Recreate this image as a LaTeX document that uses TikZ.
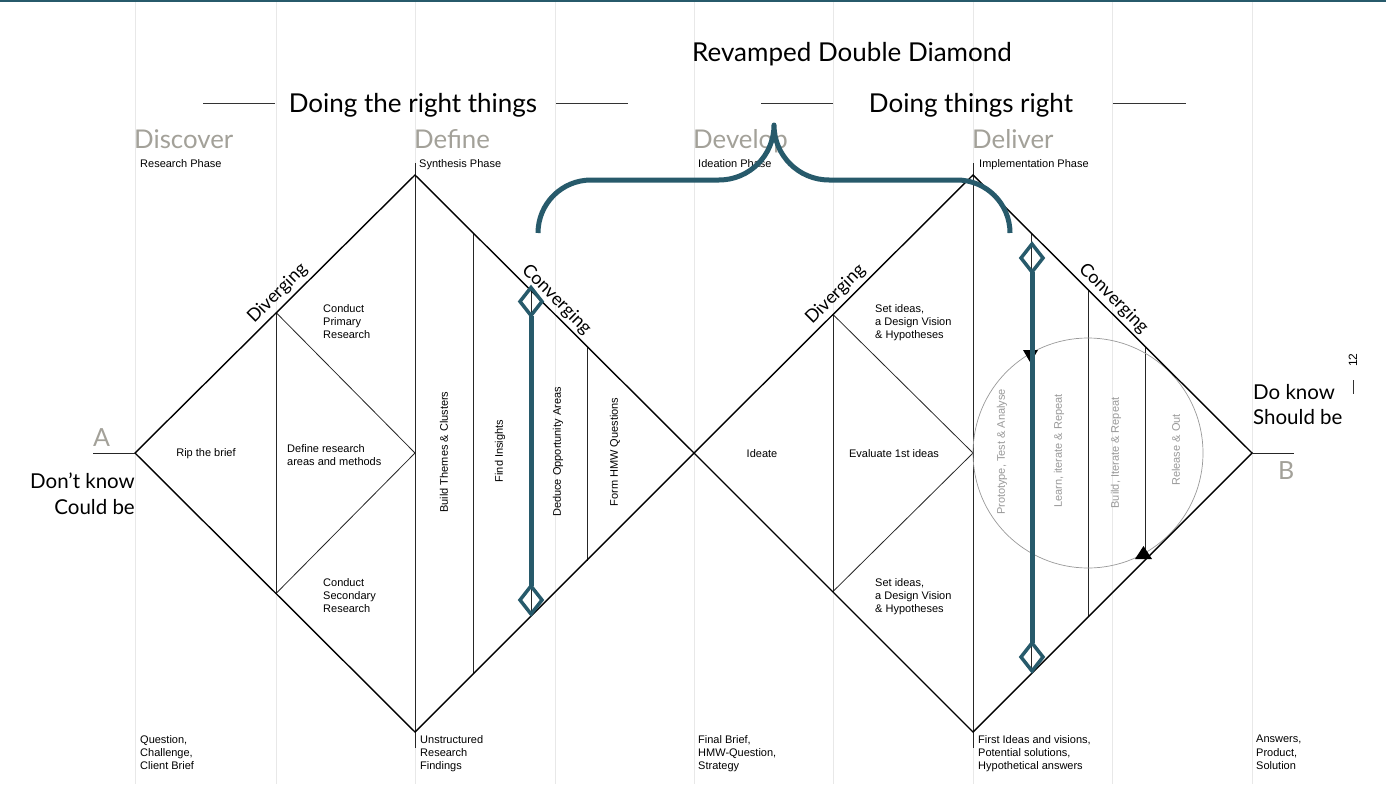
\documentclass[tikz,border=0pt]{standalone}
\usepackage{fontspec}
\setmainfont{Liberation Sans}
\newfontfamily\titlefont{Lato}
\definecolor{tealc}{HTML}{275A6B}
\definecolor{phasegray}{HTML}{A3A199}
\definecolor{gridgray}{HTML}{E8E8E8}
\definecolor{cyclegray}{HTML}{999999}
\begin{document}
\begin{tikzpicture}[x=1pt,y=-1pt,
  gridline/.style={draw=gridgray, line width=0.8pt},
  edge/.style={draw=black, line width=1.4pt, line join=miter},
  innerline/.style={draw=black!85, line width=0.8pt},
  tealline/.style={draw=tealc, line width=5pt},
  tealmark/.style={draw=tealc, line width=3.5pt, line join=miter},
  rule/.style={draw=black!80, line width=0.9pt},
  small/.style={font=\fontsize{11}{13.3}\selectfont, inner sep=0pt, align=left},
  rottext/.style={font=\fontsize{11}{13}\selectfont, inner sep=0pt, rotate=90},
  rotgray/.style={rottext, text=cyclegray},
  phase/.style={font=\titlefont\fontsize{25.8}{28}\selectfont, text=phasegray, inner sep=0pt, anchor=base west},
  phasesub/.style={font=\fontsize{11}{13}\selectfont, inner sep=0pt, anchor=base west},
  bigtitle/.style={font=\titlefont\fontsize{26}{30}\selectfont, inner sep=0pt, anchor=base},
  side/.style={font=\titlefont\fontsize{20.5}{25.5}\selectfont, inner sep=0pt},
  diag/.style={font=\titlefont\fontsize{18}{21}\selectfont, inner sep=3.5pt, anchor=south},
  letter/.style={font=\titlefont\fontsize{25}{28}\selectfont, text=phasegray, inner sep=0pt, anchor=base west},
  tmark/.pic={\path[tealmark] (0,-14) -- (11,0) -- (0,14) -- (-11,0) -- cycle;}
]
\useasboundingbox (0,0) rectangle (1386,784);
\fill[white] (0,0) rectangle (1386,784);
\fill[tealc] (0,0) rectangle (1386,2.5);

% grid
\foreach \gx in {135,276,415,555,694,833,973,1112,1252}
  \draw[gridline] (\gx,2.5) -- (\gx,784);

% key coordinates
\coordinate (A1) at (135,453);
\coordinate (T1) at (415,175);
\coordinate (B1) at (415,732);
\coordinate (M)  at (694,453);
\coordinate (T2) at (973,175);
\coordinate (B2) at (973,732);
\coordinate (E)  at (1252,453);
\coordinate (Aend) at (93,453);
\coordinate (Eend) at (1294,453);

% inner lines diamond 1
\coordinate (p1) at (276,312.5);
\coordinate (p2) at (276,593.5);
\coordinate (q1) at (415,453);
\draw[innerline] (p1) -- (p2);
\draw[innerline] (p1) -- (q1) -- (p2);
\draw[innerline] (415,163) -- (415,748);
\draw[innerline] (473,232.8) -- (473,674.2);
\draw[innerline] (531,290.6) -- (531,616.4);
\draw[innerline] (587,346.4) -- (587,560.6);

% inner lines diamond 2
\coordinate (r1) at (833,314.5);
\coordinate (r2) at (833,591.5);
\coordinate (s1) at (973,453);
\draw[innerline] (r1) -- (r2);
\draw[innerline] (r1) -- (s1) -- (r2);
\draw[innerline] (973,163) -- (973,748);
\draw[innerline] (1031,232.8) -- (1031,674.2);
\draw[innerline] (1088,289.7) -- (1088,617.3);
\draw[innerline] (1145,346.5) -- (1145,550);

% cycle circle
\draw[draw=cyclegray, line width=0.7pt] (1088,453) circle[radius=115];
\fill[black] (1023,350) -- (1038,350) -- (1030.5,363) -- cycle;
\fill[black] (1135,559) -- (1152,559) -- (1143.5,546) -- cycle;

% outer diamonds
\draw[edge] (A1) -- (T1) -- (M) -- (B1) -- cycle;
\draw[edge] (M) -- (T2) -- (E) -- (B2) -- cycle;
\draw[innerline] (Aend) -- (A1);
\draw[innerline] (E) -- (Eend);

% texts diamond 1
\node[small, anchor=center] (rip) at (206,454) {Rip the brief};
\node[small, anchor=north west] (defr) at (287,444) {Define research\\areas and methods};
\node[small, anchor=north west] (cpr) at (323,304) {Conduct\\Primary\\Research};
\node[small, anchor=north west] (csr) at (323,578) {Conduct\\Secondary\\Research};
\node[rottext] (bt) at (444,452) {Build Themes \& Clusters};
\node[rottext] (fi) at (500,451) {Find Insights};
\node[rottext] (dd) at (558,452) {Deduce Opportunity Areas};
\node[rottext] (fh) at (615,452) {Form HMW Questions};

% texts diamond 2
\node[small, anchor=center] (idt) at (762,454) {Ideate};
\node[small, anchor=center] (ev) at (894,454) {Evaluate 1st ideas};
\node[small, anchor=north west] (si1) at (875,304) {Set ideas,\\a Design Vision\\\& Hypotheses};
\node[small, anchor=north west] (si2) at (875,578) {Set ideas,\\a Design Vision\\\& Hypotheses};
\node[rotgray] (pt) at (1002,452) {Prototype, Test \& Analyse};
\node[rotgray] (li) at (1059,451) {Learn, iterate \& Repeat};
\node[rotgray] (bi) at (1116,453) {Build, Iterate \& Repeat};
\node[rotgray] (ro) at (1176,450) {Release \& Out};

% diverging / converging
\node[diag, rotate=45] (dv1) at (286,302) {Diverging};
\node[diag, rotate=-45] (cv1) at (548,308) {Converging};
\node[diag, rotate=45] (dv2) at (844,303) {Diverging};
\node[diag, rotate=-45] (cv2) at (1105,307) {Converging};

% phases
\node[phase] (ph1) at (134,148) {Discover};
\node[phase] (ph2) at (414,148) {Define};
\node[phase] (ph3) at (693,148) {Develop};
\node[phase] (ph4) at (972,148) {Deliver};
\node[phasesub] (ps1) at (140,167) {Research Phase};
\node[phasesub] (ps2) at (419,167) {Synthesis Phase};
\node[phasesub] (ps3) at (698,167) {Ideation Phase};
\node[phasesub] (ps4) at (979,167) {Implementation Phase};

% bottom labels
\node[small, anchor=north west] (o1) at (140,735) {Question,\\Challenge,\\Client Brief};
\node[small, anchor=north west] (o2) at (420,735) {Unstructured\\Research\\Findings};
\node[small, anchor=north west] (o3) at (698,735) {Final Brief,\\HMW-Question,\\Strategy};
\node[small, anchor=north west] (o4) at (978,735) {First Ideas and visions,\\Potential solutions,\\Hypothetical answers};
\node[small, anchor=north west] (o5) at (1256,735) {Answers,\\Product,\\Solution};

% titles
\node[bigtitle] (title) at (852,62) {Revamped Double Diamond};
\node[bigtitle] (h1) at (413,112) {Doing the right things};
\node[bigtitle] (h2) at (971,112) {Doing things right};
\draw[rule] (203,103) -- (275,103);
\draw[rule] (556,103) -- (628,103);
\draw[rule] (761,103) -- (833,103);
\draw[rule] (1113,103) -- (1186,103);

% side texts
\node[side, align=right, anchor=north east] (dk) at (135,473) {Don’t know\\Could be};
\node[side, align=left, anchor=north west] (dok) at (1253,384) {Do know\\Should be};
\node[letter] (la) at (93,446) {A};
\node[letter] (lb) at (1278,479) {B};
\node[font=\fontsize{12}{14}\selectfont, rotate=90, inner sep=0pt] (pg) at (1353,360) {12};
\draw[rule] (1353,380) -- (1353,394);

% teal brace and lines
\draw[tealline, line cap=butt, line join=round] (538,233) .. controls (538,203.7) and (561.7,180) .. (591,180)
  -- (719,180) .. controls (749.4,180) and (774,155.4) .. (774,125)
  .. controls (774,155.4) and (798.6,180) .. (829,180)
  -- (957,180) .. controls (986.3,180) and (1010,203.7) .. (1010,233);
\draw[tealline] (531,316) -- (531,586);
\pic at (531,301.5) {tmark};
\pic at (531,600) {tmark};
\draw[tealline] (1032,272) -- (1032,643);
\pic at (1032,258) {tmark};
\pic at (1032,657) {tmark};
\end{tikzpicture}
\end{document}
